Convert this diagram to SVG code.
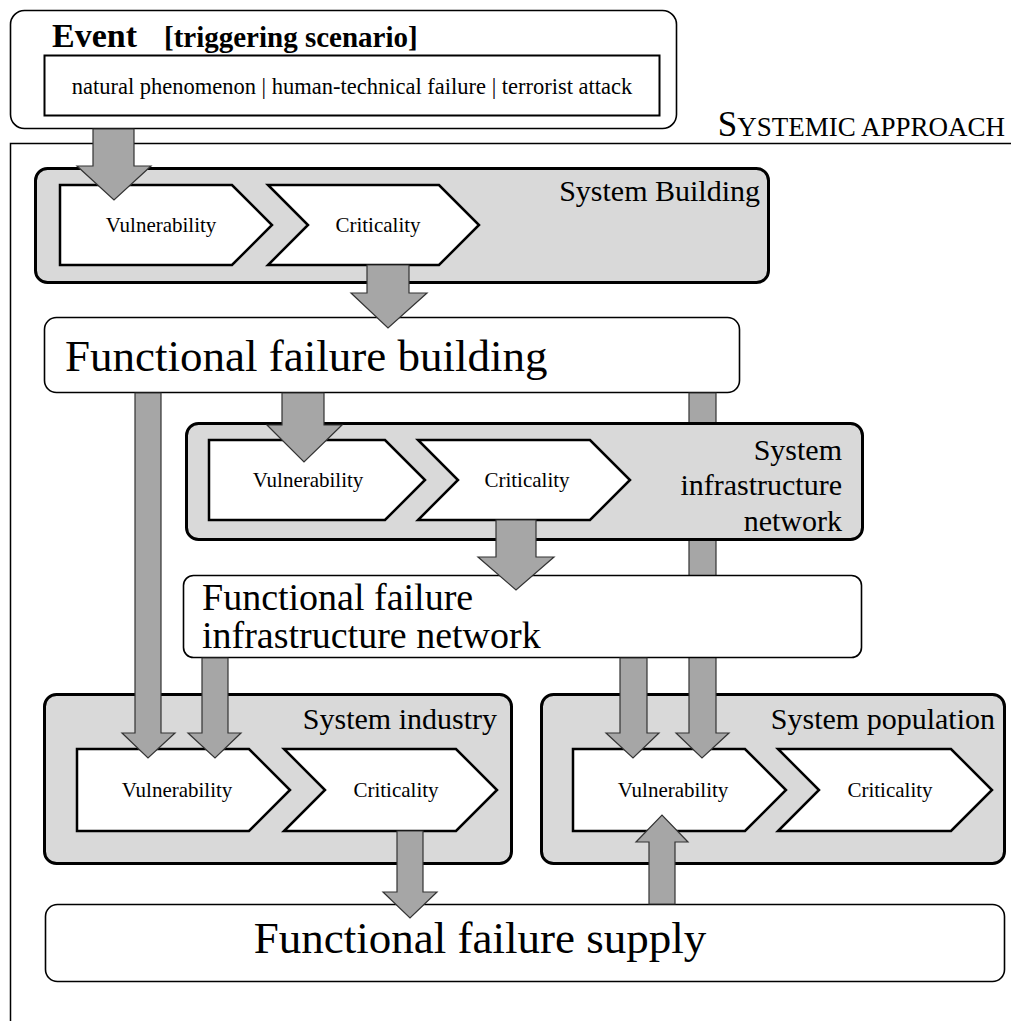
<svg xmlns="http://www.w3.org/2000/svg" width="1011" height="1021" viewBox="0 0 1011 1021">
  <style>
    text { font-family: "Liberation Serif", "Times New Roman", serif; fill: #000; }
    .panel { fill: #d9d9d9; stroke: #000; stroke-width: 3; }
    .box { fill: #fff; stroke: #000; stroke-width: 1.6; }
    .step { fill: #fff; stroke: #000; stroke-width: 2.5; stroke-linejoin: miter; }
    .arrow { fill: #a6a6a6; stroke: #333; stroke-width: 1.2; stroke-linejoin: miter; }
    .frame { fill: none; stroke: #000; stroke-width: 1.5; }
    .step-label { font-size: 21px; text-anchor: middle; }
    .sys-label { font-size: 30px; text-anchor: end; }
    .ff-label { font-size: 45px; }
  </style>

  <!-- systemic approach frame -->
  <g id="frame">
    <path class="frame" d="M10.5 1021 V143.5 H1011"/>
    <text x="1005" y="136" text-anchor="end"><tspan font-size="35">S</tspan><tspan font-size="27">YSTEMIC APPROACH</tspan></text>
  </g>

  <!-- triggering event -->
  <g id="event">
    <rect class="box" x="10.5" y="10.5" width="666" height="118" rx="14"/>
    <text x="52" y="47" font-weight="bold" font-size="34">Event</text>
    <text x="164" y="47" font-weight="bold" font-size="29">[triggering scenario]</text>
    <rect x="44.5" y="55.5" width="615" height="60" fill="#fff" stroke="#000" stroke-width="2"/>
    <text x="352" y="94" font-size="22.5" text-anchor="middle">natural phenomenon | human-technical  failure | terrorist attack</text>
  </g>

  <!-- system: building -->
  <g id="system-building">
    <rect class="panel" x="35.5" y="168.5" width="733" height="114" rx="12"/>
    <text class="sys-label" x="760" y="201">System Building</text>
    <polygon class="step" points="60,185 232,185 272,225 232,265 60,265"/>
    <text class="step-label" x="161" y="232">Vulnerability</text>
    <polygon class="step" points="268,185 439,185 479,225 439,265 268,265 308,225"/>
    <text class="step-label" x="378" y="232">Criticality</text>
  </g>

  <!-- functional failure: building -->
  <g id="ff-building">
    <rect class="box" x="44.5" y="317.5" width="695" height="75" rx="12"/>
    <text class="ff-label" x="65" y="371">Functional failure building</text>
  </g>

  <!-- system: industry -->
  <g id="system-industry">
    <rect class="panel" x="44.5" y="694.5" width="467" height="169" rx="12"/>
    <text class="sys-label" x="497" y="729">System industry</text>
    <polygon class="step" points="77,749 249,749 290,790 249,831 77,831"/>
    <text class="step-label" x="177" y="797">Vulnerability</text>
    <polygon class="step" points="284,749 456,749 497,790 456,831 284,831 325,790"/>
    <text class="step-label" x="396" y="797">Criticality</text>
  </g>

  <!-- system: population -->
  <g id="system-population">
    <rect class="panel" x="541.5" y="694.5" width="463" height="169" rx="12"/>
    <text class="sys-label" x="995" y="729">System population</text>
    <polygon class="step" points="573,749 745,749 786,790 745,831 573,831"/>
    <text class="step-label" x="673" y="797">Vulnerability</text>
    <polygon class="step" points="778,749 951,749 992,790 951,831 778,831 819,790"/>
    <text class="step-label" x="890" y="797">Criticality</text>
  </g>

  <!-- arrow that runs behind the infrastructure layer -->
  <g id="connectors-back">
    <polygon class="arrow" points="689,393 716,393 716,733 729,733 702,758 676,733 689,733"/>
  </g>

  <!-- system: infrastructure network -->
  <g id="system-infrastructure">
    <rect class="panel" x="186.5" y="423.5" width="676" height="116" rx="12"/>
    <text class="sys-label" x="842" y="460">System</text>
    <text class="sys-label" x="842" y="495">infrastructure</text>
    <text class="sys-label" x="842" y="531">network</text>
    <polygon class="step" points="209,440 385,440 425,480 385,520 209,520"/>
    <text class="step-label" x="308" y="487">Vulnerability</text>
    <polygon class="step" points="418,440 590,440 630,480 590,520 418,520 458,480"/>
    <text class="step-label" x="527" y="487">Criticality</text>
  </g>

  <!-- functional failure: infrastructure network -->
  <g id="ff-infrastructure">
    <rect class="box" x="183.5" y="575.5" width="678" height="82" rx="10"/>
    <text x="202" y="610" font-size="38">Functional failure</text>
    <text x="202" y="648" font-size="38">infrastructure network</text>
  </g>

  <!-- functional failure: supply -->
  <g id="ff-supply">
    <rect class="box" x="45.5" y="904.5" width="959" height="77" rx="12"/>
    <text class="ff-label" x="480" y="953" text-anchor="middle">Functional failure supply</text>
  </g>

  <!-- block arrows -->
  <g id="connectors">
    <polygon class="arrow" points="93,129 134,129 134,166 151,166 114,200 77,166 93,166"/>
    <polygon class="arrow" points="367,265 409,265 409,293 427,293 388,328 351,293 367,293"/>
    <polygon class="arrow" points="282,393 324,393 324,425 342,425 304,462 267,425 282,425"/>
    <polygon class="arrow" points="496,520 536,520 536,557 554,557 516,590 478,557 496,557"/>
    <polygon class="arrow" points="135,393 161,393 161,733 175,733 148,758 122,733 135,733"/>
    <polygon class="arrow" points="202,658 228,658 228,733 241,733 215,758 188,733 202,733"/>
    <polygon class="arrow" points="620,658 647,658 647,733 659,733 633,758 606,733 620,733"/>
    <polygon class="arrow" points="397,831 423,831 423,892 437,892 410,918 383,892 397,892"/>
    <polygon class="arrow" points="649,904 675,904 675,842 688,842 662,815 636,842 649,842"/>
  </g>
</svg>
